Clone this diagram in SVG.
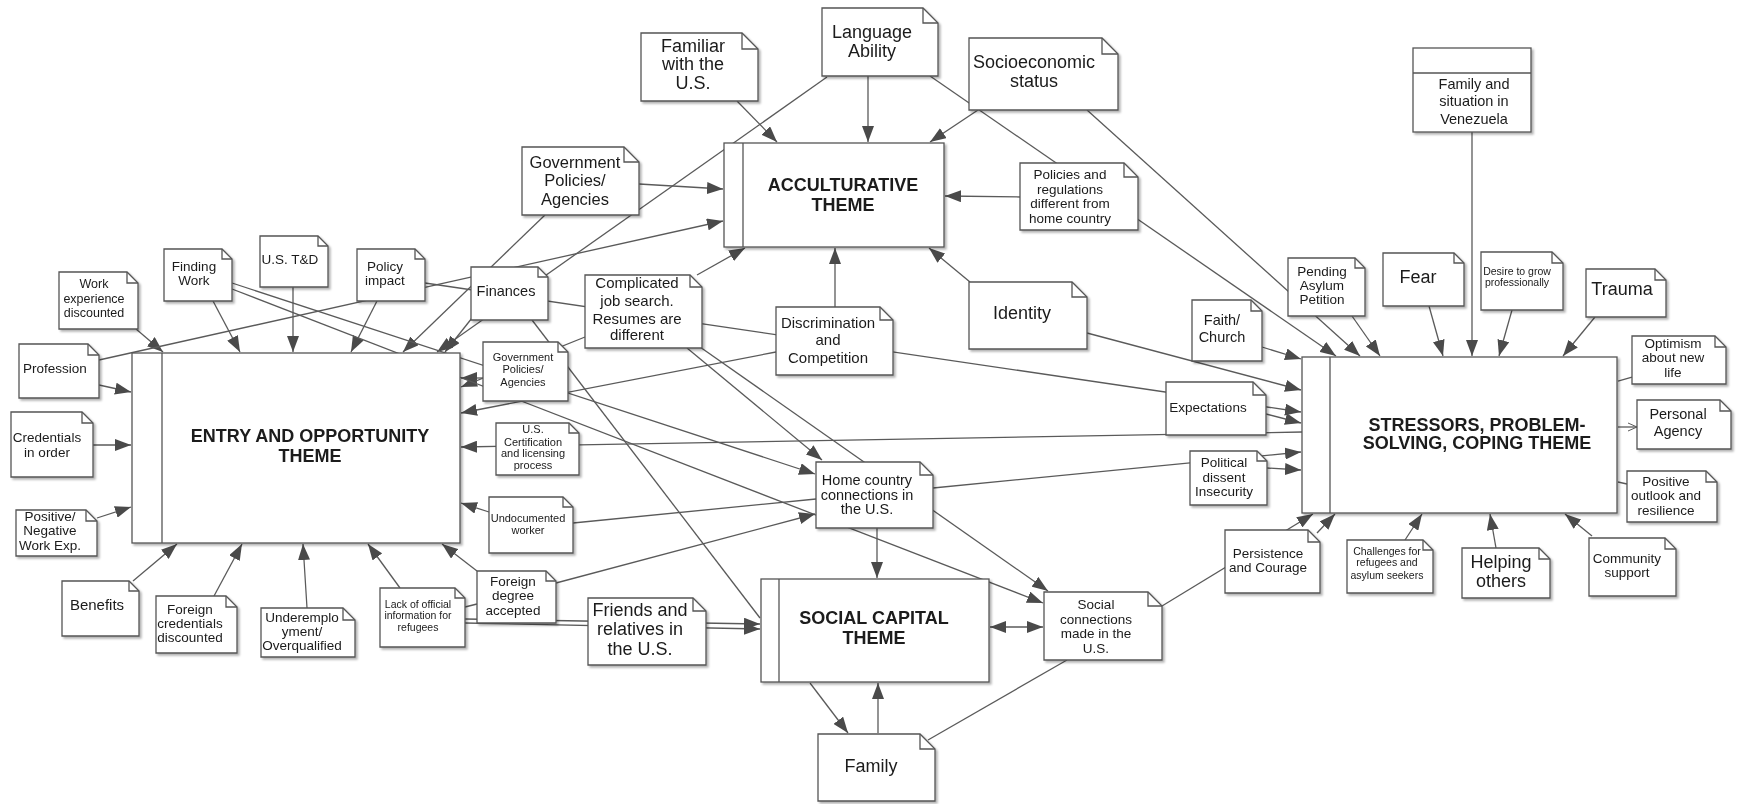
<svg xmlns="http://www.w3.org/2000/svg" width="1739" height="804" viewBox="0 0 1739 804">
<defs>
<style>
.bg{fill:#fff}
.nb{fill:#fff;stroke:#555;stroke-width:1.3}
.fold{fill:none;stroke:#555;stroke-width:1.3}
.node{filter:url(#sh)}
text{font-family:"Liberation Sans",Arial,sans-serif;fill:#1a1a1a;text-anchor:middle}
.th{font-weight:bold;font-size:18px}
.f18{font-size:18px}.f16{font-size:16.5px}.f15{font-size:15px}.f14{font-size:14.5px}.f13{font-size:13.5px}.f12{font-size:12.5px}.f11{font-size:11px}.f10{font-size:10.5px}
.c line,.c path{stroke:#5a5a5a;stroke-width:1.3;fill:none}
.c .a{marker-end:url(#ar)}
.c .b{marker-end:url(#ar);marker-start:url(#ar)}
</style>
<marker id="ar" markerUnits="userSpaceOnUse" markerWidth="16" markerHeight="12" refX="16" refY="6" orient="auto-start-reverse"><path d="M0,0 L16,6 L0,12 z" fill="#4a4a4a"/></marker>
<marker id="op" markerUnits="userSpaceOnUse" markerWidth="10" markerHeight="10" refX="9" refY="5" orient="auto"><path d="M0,1 L9,5 L0,9" fill="none" stroke="#5a5a5a" stroke-width="1"/></marker>
<filter id="sh" x="-10%" y="-10%" width="130%" height="130%"><feDropShadow dx="2" dy="2" stdDeviation="1.2" flood-color="#000" flood-opacity="0.3"/></filter>
</defs>
<rect class="bg" x="0" y="0" width="1739" height="804"/>

<g id="connectors" class="c">
<line class="a" x1="136" y1="329" x2="163" y2="352"/>
<line class="a" x1="213" y1="301" x2="240" y2="352"/>
<line class="a" x1="293" y1="287" x2="293" y2="352"/>
<line class="a" x1="377" y1="301" x2="351" y2="352"/>
<line class="a" x1="99" y1="385" x2="131" y2="392"/>
<line class="a" x1="93" y1="445" x2="131" y2="445"/>
<line class="a" x1="97" y1="518" x2="131" y2="507"/>
<line class="a" x1="133" y1="581" x2="177" y2="544"/>
<line class="a" x1="214" y1="596" x2="242" y2="544"/>
<line class="a" x1="307" y1="608" x2="303" y2="544"/>
<line class="a" x1="400" y1="588" x2="368" y2="544"/>
<line class="a" x1="477" y1="571" x2="442" y2="544"/>
<line class="a" x1="545" y1="215" x2="403" y2="352"/>
<line class="a" x1="827" y1="77" x2="437" y2="352"/>
<line class="a" x1="472" y1="318" x2="445" y2="352"/>
<line class="a" x1="483" y1="378" x2="461" y2="378"/>
<line class="a" x1="585" y1="337" x2="461" y2="387"/>
<line class="a" x1="776" y1="352" x2="461" y2="413"/>
<line class="a" x1="1302" y1="432" x2="461" y2="447"/>
<line class="a" x1="489" y1="512" x2="461" y2="503"/>
<line x1="816" y1="499" x2="573" y2="523"/>

<line class="a" x1="737" y1="101" x2="777" y2="142"/>
<line class="a" x1="868" y1="76" x2="868" y2="142"/>
<line class="a" x1="978" y1="110" x2="930" y2="142"/>
<line class="a" x1="639" y1="184" x2="723" y2="189"/>
<line class="a" x1="99" y1="360" x2="723" y2="221"/>
<line class="a" x1="697" y1="275" x2="745" y2="248"/>
<line class="a" x1="835" y1="307" x2="835" y2="248"/>
<line class="a" x1="970" y1="282" x2="929" y2="248"/>
<line class="a" x1="1020" y1="197" x2="945" y2="196"/>

<line class="a" x1="930" y1="76" x2="1336" y2="356"/>
<line class="a" x1="1087" y1="110" x2="1360" y2="356"/>
<line class="a" x1="1352" y1="316" x2="1380" y2="356"/>
<line class="a" x1="1429" y1="306" x2="1443" y2="356"/>
<line class="a" x1="1472" y1="132" x2="1472" y2="356"/>
<line class="a" x1="1512" y1="310" x2="1499" y2="356"/>
<line class="a" x1="1595" y1="317" x2="1563" y2="356"/>
<line class="a" x1="1262" y1="347" x2="1301" y2="359"/>
<line class="a" x1="1087" y1="333" x2="1301" y2="390"/>
<line class="a" x1="425" y1="283" x2="1301" y2="412"/>
<line class="a" x1="1266" y1="414" x2="1301" y2="423"/>
<line class="a" x1="933" y1="488" x2="1301" y2="452"/>
<line class="a" x1="1267" y1="468" x2="1301" y2="470"/>
<line class="a" x1="1162" y1="606" x2="1313" y2="514"/>
<line class="a" x1="1317" y1="533" x2="1335" y2="514"/>
<line class="a" x1="1405" y1="540" x2="1422" y2="514"/>
<line class="a" x1="1496" y1="548" x2="1490" y2="514"/>
<line class="a" x1="1592" y1="536" x2="1565" y2="514"/>
<line x1="1618" y1="381" x2="1632" y2="377"/>
<line x1="1618" y1="427" x2="1637" y2="427" marker-end="url(#op)"/>
<line x1="1618" y1="482" x2="1627" y2="484"/>

<line class="a" x1="877" y1="528" x2="877" y2="578"/>
<line class="a" x1="687" y1="348" x2="822" y2="460"/>
<line class="a" x1="700" y1="347" x2="1048" y2="591"/>
<line class="a" x1="232" y1="283" x2="815" y2="474"/>
<line class="a" x1="232" y1="289" x2="1043" y2="603"/>
<line class="a" x1="556" y1="583" x2="815" y2="514"/>
<line x1="532" y1="320" x2="760" y2="618"/>
<line class="a" x1="465" y1="619" x2="760" y2="624"/>
<line class="a" x1="465" y1="623" x2="760" y2="629"/>
<line x1="465" y1="607" x2="477" y2="604"/>
<line class="b" x1="990" y1="627" x2="1043" y2="627"/>
<line class="a" x1="810" y1="683" x2="848" y2="733"/>
<line class="a" x1="878" y1="733" x2="878" y2="683"/>
<line x1="928" y1="740" x2="1067" y2="660"/>
</g>

<g id="theme-entry" class="node">
<rect class="nb" x="132" y="353" width="328" height="190"/>
<line class="fold" x1="162" y1="353" x2="162" y2="543"/>
<text class="th"><tspan x="310" y="442">ENTRY AND OPPORTUNITY</tspan><tspan x="310" y="462">THEME</tspan></text>
</g>
<g id="theme-accult" class="node">
<rect class="nb" x="724" y="143" width="220" height="104"/>
<line class="fold" x1="743" y1="143" x2="743" y2="247"/>
<text class="th"><tspan x="843" y="191">ACCULTURATIVE</tspan><tspan x="843" y="211">THEME</tspan></text>
</g>
<g id="theme-social" class="node">
<rect class="nb" x="761" y="579" width="228" height="103"/>
<line class="fold" x1="779" y1="579" x2="779" y2="682"/>
<text class="th"><tspan x="874" y="624">SOCIAL CAPITAL</tspan><tspan x="874" y="644">THEME</tspan></text>
</g>
<g id="theme-stress" class="node">
<rect class="nb" x="1302" y="357" width="315" height="156"/>
<line class="fold" x1="1330" y1="357" x2="1330" y2="513"/>
<text class="th"><tspan x="1477" y="431">STRESSORS, PROBLEM-</tspan><tspan x="1477" y="449">SOLVING, COPING THEME</tspan></text>
</g>

<g id="n-workexp" class="node"><path class="nb" d="M59 272 H127 L138 283 V329 H59 Z"/><path class="fold" d="M127 272 V283 H138"/><text class="f12"><tspan x="94" y="288">Work</tspan><tspan x="94" y="303">experience</tspan><tspan x="94" y="317">discounted</tspan></text></g>
<g id="n-finding" class="node"><path class="nb" d="M164 249 H222 L232 259 V301 H164 Z"/><path class="fold" d="M222 249 V259 H232"/><text class="f13"><tspan x="194" y="271">Finding</tspan><tspan x="194" y="285">Work</tspan></text></g>
<g id="n-ustd" class="node"><path class="nb" d="M260 236 H318 L328 246 V287 H260 Z"/><path class="fold" d="M318 236 V246 H328"/><text class="f13"><tspan x="290" y="264">U.S. T&amp;D</tspan></text></g>
<g id="n-policyimpact" class="node"><path class="nb" d="M357 249 H415 L425 259 V301 H357 Z"/><path class="fold" d="M415 249 V259 H425"/><text class="f13"><tspan x="385" y="271">Policy</tspan><tspan x="385" y="285">impact</tspan></text></g>
<g id="n-profession" class="node"><path class="nb" d="M19 344 H88 L99 355 V398 H19 Z"/><path class="fold" d="M88 344 V355 H99"/><text class="f13"><tspan x="55" y="373">Profession</tspan></text></g>
<g id="n-credentials" class="node"><path class="nb" d="M11 412 H82 L93 423 V477 H11 Z"/><path class="fold" d="M82 412 V423 H93"/><text class="f13"><tspan x="47" y="442">Credentials</tspan><tspan x="47" y="457">in order</tspan></text></g>
<g id="n-posneg" class="node"><path class="nb" d="M16 510 H86 L97 521 V556 H16 Z"/><path class="fold" d="M86 510 V521 H97"/><text class="f13"><tspan x="50" y="521">Positive/</tspan><tspan x="50" y="535">Negative</tspan><tspan x="50" y="550">Work Exp.</tspan></text></g>
<g id="n-benefits" class="node"><path class="nb" d="M62 581 H129 L139 591 V636 H62 Z"/><path class="fold" d="M129 581 V591 H139"/><text class="f15"><tspan x="97" y="610">Benefits</tspan></text></g>
<g id="n-foreigncred" class="node"><path class="nb" d="M156 596 H226 L237 607 V653 H156 Z"/><path class="fold" d="M226 596 V607 H237"/><text class="f13"><tspan x="190" y="614">Foreign</tspan><tspan x="190" y="628">credentials</tspan><tspan x="190" y="642">discounted</tspan></text></g>
<g id="n-underemp" class="node"><path class="nb" d="M261 608 H343 L355 620 V657 H261 Z"/><path class="fold" d="M343 608 V620 H355"/><text class="f13"><tspan x="302" y="622">Underemplo</tspan><tspan x="302" y="636">yment/</tspan><tspan x="302" y="650">Overqualified</tspan></text></g>
<g id="n-lack" class="node"><path class="nb" d="M380 588 H455 L465 598 V647 H380 Z"/><path class="fold" d="M455 588 V598 H465"/><text class="f10"><tspan x="418" y="608">Lack of official</tspan><tspan x="418" y="619">information for</tspan><tspan x="418" y="631">refugees</tspan></text></g>
<g id="n-finances" class="node"><path class="nb" d="M471 267 H538 L548 277 V320 H471 Z"/><path class="fold" d="M538 267 V277 H548"/><text class="f14"><tspan x="506" y="296">Finances</tspan></text></g>
<g id="n-complicated" class="node"><path class="nb" d="M585 275 H690 L702 287 V348 H585 Z"/><path class="fold" d="M690 275 V287 H702"/><text class="f15"><tspan x="637" y="288">Complicated</tspan><tspan x="637" y="306">job search.</tspan><tspan x="637" y="324">Resumes are</tspan><tspan x="637" y="340">different</tspan></text></g>
<g id="n-discrimination" class="node"><path class="nb" d="M776 307 H880 L893 320 V375 H776 Z"/><path class="fold" d="M880 307 V320 H893"/><text class="f15"><tspan x="828" y="328">Discrimination</tspan><tspan x="828" y="345">and</tspan><tspan x="828" y="363">Competition</tspan></text></g>
<g id="n-govsmall" class="node"><path class="nb" d="M483 342 H558 L568 352 V401 H483 Z"/><path class="fold" d="M558 342 V352 H568"/><text class="f11"><tspan x="523" y="361">Government</tspan><tspan x="523" y="373">Policies/</tspan><tspan x="523" y="386">Agencies</tspan></text></g>
<g id="n-cert" class="node"><path class="nb" d="M496 423 H569 L579 433 V475 H496 Z"/><path class="fold" d="M569 423 V433 H579"/><text class="f11"><tspan x="533" y="433">U.S.</tspan><tspan x="533" y="446">Certification</tspan><tspan x="533" y="457">and licensing</tspan><tspan x="533" y="469">process</tspan></text></g>
<g id="n-undoc" class="node"><path class="nb" d="M489 497 H563 L573 507 V553 H489 Z"/><path class="fold" d="M563 497 V507 H573"/><text class="f11"><tspan x="528" y="522">Undocumented</tspan><tspan x="528" y="534">worker</tspan></text></g>
<g id="n-home" class="node"><path class="nb" d="M816 462 H920 L933 475 V528 H816 Z"/><path class="fold" d="M920 462 V475 H933"/><text class="f14"><tspan x="867" y="485">Home country</tspan><tspan x="867" y="500">connections in</tspan><tspan x="867" y="514">the U.S.</tspan></text></g>
<g id="n-foreigndeg" class="node"><path class="nb" d="M477 571 H546 L556 581 V623 H477 Z"/><path class="fold" d="M546 571 V581 H556"/><text class="f13"><tspan x="513" y="586">Foreign</tspan><tspan x="513" y="600">degree</tspan><tspan x="513" y="615">accepted</tspan></text></g>
<g id="n-friends" class="node"><path class="nb" d="M588 598 H693 L706 611 V665 H588 Z"/><path class="fold" d="M693 598 V611 H706"/><text class="f18"><tspan x="640" y="616">Friends and</tspan><tspan x="640" y="635">relatives  in</tspan><tspan x="640" y="655">the U.S.</tspan></text></g>
<g id="n-family" class="node"><path class="nb" d="M818 734 H920 L935 749 V801 H818 Z"/><path class="fold" d="M920 734 V749 H935"/><text class="f18"><tspan x="871" y="772">Family</tspan></text></g>
<g id="n-socialconn" class="node"><path class="nb" d="M1044 592 H1148 L1162 606 V660 H1044 Z"/><path class="fold" d="M1148 592 V606 H1162"/><text class="f13"><tspan x="1096" y="609">Social</tspan><tspan x="1096" y="624">connections</tspan><tspan x="1096" y="638">made in  the</tspan><tspan x="1096" y="653">U.S.</tspan></text></g>
<g id="n-persistence" class="node"><path class="nb" d="M1225 530 H1308 L1320 542 V593 H1225 Z"/><path class="fold" d="M1308 530 V542 H1320"/><text class="f13"><tspan x="1268" y="558">Persistence</tspan><tspan x="1268" y="572">and Courage</tspan></text></g>
<g id="n-socio" class="node"><path class="nb" d="M969 38 H1102 L1118 54 V110 H969 Z"/><path class="fold" d="M1102 38 V54 H1118"/><text class="f18"><tspan x="1034" y="68">Socioeconomic</tspan><tspan x="1034" y="87">status</tspan></text></g>
<g id="n-policiesreg" class="node"><path class="nb" d="M1020 163 H1124 L1138 177 V230 H1020 Z"/><path class="fold" d="M1124 163 V177 H1138"/><text class="f13"><tspan x="1070" y="179">Policies and</tspan><tspan x="1070" y="194">regulations</tspan><tspan x="1070" y="208">different from</tspan><tspan x="1070" y="223">home  country</tspan></text></g>
<g id="n-language" class="node"><path class="nb" d="M822 8 H923 L938 23 V76 H822 Z"/><path class="fold" d="M923 8 V23 H938"/><text class="f18"><tspan x="872" y="38">Language</tspan><tspan x="872" y="57">Ability</tspan></text></g>
<g id="n-familiar" class="node"><path class="nb" d="M641 33 H742 L758 49 V101 H641 Z"/><path class="fold" d="M742 33 V49 H758"/><text class="f18"><tspan x="693" y="52">Familiar</tspan><tspan x="693" y="70">with the</tspan><tspan x="693" y="89">U.S.</tspan></text></g>
<g id="n-govbig" class="node"><path class="nb" d="M522 147 H624 L639 162 V215 H522 Z"/><path class="fold" d="M624 147 V162 H639"/><text class="f16"><tspan x="575" y="168">Government</tspan><tspan x="575" y="186">Policies/</tspan><tspan x="575" y="205">Agencies</tspan></text></g>
<g id="n-identity" class="node"><path class="nb" d="M969 282 H1072 L1087 297 V349 H969 Z"/><path class="fold" d="M1072 282 V297 H1087"/><text class="f18"><tspan x="1022" y="319">Identity</tspan></text></g>
<g id="n-faith" class="node"><path class="nb" d="M1192 300 H1251 L1262 311 V361 H1192 Z"/><path class="fold" d="M1251 300 V311 H1262"/><text class="f14"><tspan x="1222" y="325">Faith/</tspan><tspan x="1222" y="342">Church</tspan></text></g>
<g id="n-expectations" class="node"><path class="nb" d="M1166 382 H1253 L1266 395 V435 H1166 Z"/><path class="fold" d="M1253 382 V395 H1266"/><text class="f13"><tspan x="1208" y="412">Expectations</tspan></text></g>
<g id="n-political" class="node"><path class="nb" d="M1190 451 H1257 L1267 461 V505 H1190 Z"/><path class="fold" d="M1257 451 V461 H1267"/><text class="f13"><tspan x="1224" y="467">Political</tspan><tspan x="1224" y="482">dissent</tspan><tspan x="1224" y="496">Insecurity</tspan></text></g>
<g id="n-venezuela" class="node"><rect class="nb" x="1413" y="48" width="118" height="84"/><line class="fold" x1="1413" y1="73" x2="1531" y2="73"/><text class="f14"><tspan x="1474" y="89">Family and</tspan><tspan x="1474" y="106">situation in</tspan><tspan x="1474" y="124">Venezuela</tspan></text></g>
<g id="n-pending" class="node"><path class="nb" d="M1288 258 H1355 L1365 268 V316 H1288 Z"/><path class="fold" d="M1355 258 V268 H1365"/><text class="f13"><tspan x="1322" y="276">Pending</tspan><tspan x="1322" y="290">Asylum</tspan><tspan x="1322" y="304">Petition</tspan></text></g>
<g id="n-fear" class="node"><path class="nb" d="M1383 253 H1454 L1464 263 V306 H1383 Z"/><path class="fold" d="M1454 253 V263 H1464"/><text class="f18"><tspan x="1418" y="283">Fear</tspan></text></g>
<g id="n-desire" class="node"><path class="nb" d="M1481 252 H1552 L1563 263 V310 H1481 Z"/><path class="fold" d="M1552 252 V263 H1563"/><text class="f10"><tspan x="1517" y="275">Desire to grow</tspan><tspan x="1517" y="286">professionally</tspan></text></g>
<g id="n-trauma" class="node"><path class="nb" d="M1586 269 H1655 L1666 280 V317 H1586 Z"/><path class="fold" d="M1655 269 V280 H1666"/><text class="f18"><tspan x="1622" y="295">Trauma</tspan></text></g>
<g id="n-optimism" class="node"><path class="nb" d="M1632 336 H1715 L1726 347 V384 H1632 Z"/><path class="fold" d="M1715 336 V347 H1726"/><text class="f13"><tspan x="1673" y="348">Optimism</tspan><tspan x="1673" y="362">about new</tspan><tspan x="1673" y="377">life</tspan></text></g>
<g id="n-agency" class="node"><path class="nb" d="M1637 400 H1720 L1731 411 V449 H1637 Z"/><path class="fold" d="M1720 400 V411 H1731"/><text class="f14"><tspan x="1678" y="419">Personal</tspan><tspan x="1678" y="436">Agency</tspan></text></g>
<g id="n-outlook" class="node"><path class="nb" d="M1627 471 H1706 L1717 482 V522 H1627 Z"/><path class="fold" d="M1706 471 V482 H1717"/><text class="f13"><tspan x="1666" y="486">Positive</tspan><tspan x="1666" y="500">outlook and</tspan><tspan x="1666" y="515">resilience</tspan></text></g>
<g id="n-community" class="node"><path class="nb" d="M1589 538 H1665 L1676 549 V596 H1589 Z"/><path class="fold" d="M1665 538 V549 H1676"/><text class="f13"><tspan x="1627" y="563">Community</tspan><tspan x="1627" y="577">support</tspan></text></g>
<g id="n-helping" class="node"><path class="nb" d="M1462 548 H1539 L1550 559 V598 H1462 Z"/><path class="fold" d="M1539 548 V559 H1550"/><text class="f18"><tspan x="1501" y="568">Helping</tspan><tspan x="1501" y="587">others</tspan></text></g>
<g id="n-challenges" class="node"><path class="nb" d="M1347 540 H1423 L1433 550 V593 H1347 Z"/><path class="fold" d="M1423 540 V550 H1433"/><text class="f10"><tspan x="1387" y="555">Challenges for</tspan><tspan x="1387" y="566">refugees and</tspan><tspan x="1387" y="579">asylum seekers</tspan></text></g>
</svg>
